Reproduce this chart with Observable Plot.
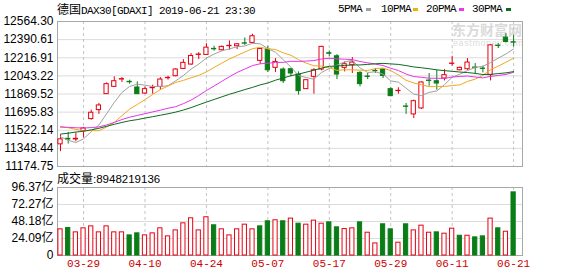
<!DOCTYPE html>
<html><head><meta charset="utf-8">
<script src="https://cdn.jsdelivr.net/npm/d3@7"></script>
<script src="https://cdn.jsdelivr.net/npm/@observablehq/plot@0.6"></script>
<style>
body{margin:0;background:#fff;}
#wrap{position:relative;width:578px;height:276px;overflow:hidden;font-family:"Liberation Sans",Arial,sans-serif;color:#000;}
.abs{position:absolute;white-space:nowrap;}
.mono{font-family:"Liberation Mono",monospace;font-size:11px;letter-spacing:-0.6px;}
.cjk{font-family:"Noto Sans CJK SC",sans-serif;font-size:12px;letter-spacing:0;}
.sw{position:absolute;width:5px;height:3px;}
</style></head>
<body><div id="wrap">
<div class="abs" id="wm" style="left:452px;top:21px;color:#dadada;font-family:'Noto Sans CJK SC',sans-serif;font-size:14px;font-weight:bold;line-height:16px;">东方财富网</div>
<div class="abs" style="left:453px;top:38px;color:#dcdcdc;font-size:9px;letter-spacing:0.6px;line-height:10px;">eastmoney.com</div>
<div id="main" class="abs" style="left:0;top:0"></div>
<div id="vol" class="abs" style="left:0;top:170px"></div>
<div class="abs" style="left:57px;top:2px;line-height:14px;"><span class="cjk">德国</span><span class="mono">DAX30[GDAXI] 2019-06-21 23:30</span></div>
<div class="abs mono" style="left:338px;top:2px;line-height:14px;">5PMA</div>
<div class="sw" style="left:366px;top:8px;background:#a0a0a0"></div>
<div class="abs mono" style="left:381px;top:2px;line-height:14px;">10PMA</div>
<div class="sw" style="left:413px;top:8px;background:#f0b400"></div>
<div class="abs mono" style="left:426px;top:2px;line-height:14px;">20PMA</div>
<div class="sw" style="left:459px;top:8px;background:#e83ae8"></div>
<div class="abs mono" style="left:472px;top:2px;line-height:14px;">30PMA</div>
<div class="sw" style="left:506px;top:8px;background:#0b6b1e"></div>
<div class="abs" style="left:57px;top:171px;line-height:14px;"><span class="cjk">成交量</span><span style="font-size:11.5px">:8948219136</span></div>
</div>
<script>
const dates = ["03-26","03-27","03-28","03-29","04-01","04-02","04-03","04-04","04-05","04-08","04-09","04-10","04-11","04-12","04-15","04-16","04-17","04-18","04-23","04-24","04-25","04-26","04-29","04-30","05-02","05-03","05-06","05-07","05-08","05-09","05-10","05-13","05-14","05-15","05-16","05-17","05-20","05-21","05-22","05-23","05-24","05-27","05-28","05-29","05-30","05-31","06-03","06-04","06-05","06-06","06-07","06-11","06-12","06-13","06-14","06-17","06-18","06-19","06-20","06-21"];
const open = [11387,11440,11434,11514,11629,11715,11868,11938,12008,11986,11932,11874,11925,11938,12021,12040,12110,12152,12244,12244,12302,12289,12328,12327,12355,12359,12187,12295,12120,12104,12107,12056,11916,12034,12104,12260,12231,12120,12145,12072,12037,12091,12104,11916,11897,11750,11674,11731,11998,11992,12018,12158,12097,12107,12123,12113,12050,12333,12410,12365];
const high = [11476,11501,11498,11549,11715,11779,11976,12034,12027,12002,11986,11938,11954,12027,12040,12113,12199,12257,12266,12352,12327,12330,12378,12352,12407,12442,12305,12327,12209,12120,12113,12082,12008,12113,12327,12282,12247,12177,12219,12082,12066,12113,12113,11929,11929,11779,11811,11986,12066,12097,12104,12231,12129,12209,12161,12136,12343,12352,12448,12432];
const low = [11317,11390,11412,11450,11619,11674,11868,11932,11980,11964,11865,11866,11868,11906,12002,12034,12104,12145,12199,12241,12279,12282,12289,12295,12336,12352,12155,12075,12075,11970,12034,11858,11913,11868,12091,12225,12008,12081,12066,11938,12008,12066,12018,11843,11868,11674,11635,11721,11944,11906,11995,12136,12091,12097,12059,12072,11995,12305,12359,12321];
const close = [11435,11433,11440,11540,11690,11760,11964,11992,12012,11982,11868,11916,11929,12008,12024,12104,12168,12234,12248,12314,12298,12321,12331,12346,12352,12423,12301,12097,12177,11992,12066,11897,12002,12097,12321,12255,12056,12155,12171,11964,12033,12088,12043,11849,11900,11747,11801,11980,11995,11970,12050,12161,12120,12171,12120,12110,12336,12330,12368,12362];
const prevClose = 11347;
const volume = [37.1,39.0,32.8,38.5,41.3,32.8,41.3,32.8,32.8,28.5,31.4,28.5,31.4,38.5,27.1,35.6,45.6,52.7,35.6,54.2,42.8,37.1,28.5,37.1,43.7,37.1,41.3,48.5,49.9,48.5,52.3,45.1,43.7,49.4,45.1,47.0,39.9,37.5,38.5,47.0,32.3,17.1,44.2,37.1,18.1,44.2,35.6,42.3,32.3,32.8,30.9,38.0,28.0,28.0,25.7,27.1,52.3,38.5,33.7,89.48];
const ma5 = [11460,11426,11404,11440,11508,11573,11679,11789,11884,11942,11964,11954,11941,11941,11949,11996,12047,12108,12156,12214,12252,12283,12302,12322,12330,12355,12351,12304,12270,12198,12127,12046,12027,12011,12077,12114,12146,12177,12192,12120,12076,12082,12060,11995,11983,11925,11868,11855,11885,11899,11959,12031,12059,12094,12124,12136,12171,12213,12253,12301];
const ma10 = [11559,11546,11531,11516,11520,11517,11553,11597,11662,11725,11769,11816,11865,11912,11946,11980,12000,12025,12048,12081,12124,12165,12205,12239,12272,12304,12317,12303,12296,12264,12241,12198,12165,12140,12137,12121,12096,12102,12101,12098,12095,12114,12118,12094,12051,12001,11975,11958,11940,11941,11942,11950,11957,11990,12012,12048,12102,12137,12174,12213];
const ma20 = [11552,11550,11546,11543,11548,11554,11573,11597,11625,11647,11664,11681,11698,11714,11733,11748,11777,11811,11855,11903,11946,11991,12035,12076,12109,12142,12159,12164,12172,12173,12183,12182,12185,12190,12205,12212,12206,12203,12199,12181,12168,12156,12142,12117,12094,12061,12036,12030,12021,12020,12019,12032,12038,12042,12032,12024,12038,12047,12057,12077];
const ma30 = [11485,11494,11505,11513,11526,11541,11560,11579,11597,11613,11624,11639,11652,11666,11680,11696,11716,11739,11766,11792,11817,11842,11867,11889,11912,11933,11957,11975,12002,12023,12045,12060,12079,12097,12118,12135,12138,12143,12148,12148,12153,12159,12163,12158,12153,12142,12129,12121,12112,12101,12093,12087,12080,12075,12067,12056,12058,12065,12072,12084];
const priceTicks = [11174.75,11348.44,11522.14,11695.83,11869.52,12043.22,12216.91,12390.61,12564.30];
const volTicks = [0,24.09,48.18,72.27,96.37];
const xTickDates = ["03-29","04-10","04-24","05-07","05-17","05-29","06-11","06-21"];

const RED = "#e60012", GREEN = "#0a7d16";
const rows = dates.map((d, i) => ({
  date: d, open: open[i], high: high[i], low: low[i], close: close[i],
  up: close[i] >= open[i],
  vol: volume[i],
  volUp: close[i] >= (i ? close[i - 1] : prevClose),
  ma5: ma5[i], ma10: ma10[i], ma20: ma20[i], ma30: ma30[i]
}));

const xScale = {type: "band", domain: dates, paddingInner: 0.45, paddingOuter: 0.5, align: 0.117, axis: null};
const baseStyle = {background: "transparent", overflow: "visible", fontFamily: "'Liberation Sans', Arial, 'Noto Sans CJK SC', sans-serif", fontSize: "12px", color: "#000"};

const main = Plot.plot({
  width: 578, height: 168,
  marginLeft: 57, marginRight: 56, marginTop: 21, marginBottom: 2,
  style: baseStyle,
  x: xScale,
  y: {domain: [11174.75, 12564.30], ticks: priceTicks, tickFormat: d3.format(".2f"), tickSize: 0, tickPadding: 4, label: null},
  marks: [
    Plot.ruleY(priceTicks, {stroke: "#dcdcdc"}),
    Plot.ruleX(xTickDates, {stroke: "#c4c4c4", strokeDasharray: "3,3"}),
    Plot.frame({stroke: "#a8a8a8"}),
    Plot.ruleX(rows, {x: "date", y1: "low", y2: "high", stroke: d => d.up ? RED : GREEN}),
    Plot.barY(rows, {x: "date", y1: "open", y2: "close", fill: d => d.up ? "#fff" : GREEN, stroke: d => d.up ? RED : GREEN, strokeWidth: 1}),
    Plot.lineY(rows, {x: "date", y: "ma5", stroke: "#a0a0a0", strokeWidth: 1}),
    Plot.lineY(rows, {x: "date", y: "ma10", stroke: "#f0a81e", strokeWidth: 1}),
    Plot.lineY(rows, {x: "date", y: "ma20", stroke: "#e535e5", strokeWidth: 1}),
    Plot.lineY(rows, {x: "date", y: "ma30", stroke: "#0b6b1e", strokeWidth: 1})
  ]
});
document.getElementById("main").appendChild(main);

const vol = Plot.plot({
  width: 578, height: 106,
  marginLeft: 57, marginRight: 56, marginTop: 17, marginBottom: 21,
  style: baseStyle,
  x: xScale,
  y: {domain: [0, 96.37], ticks: volTicks, tickFormat: d => d === 0 ? "0" : d.toFixed(2) + "亿", tickSize: 0, tickPadding: 4, label: null},
  marks: [
    Plot.ruleY(volTicks, {stroke: "#dcdcdc"}),
    Plot.ruleX(xTickDates, {stroke: "#c4c4c4", strokeDasharray: "3,3"}),
    Plot.frame({stroke: "#a8a8a8"}),
    Plot.barY(rows, {x: "date", y1: 0, y2: "vol", fill: d => d.volUp ? "#fff" : GREEN, stroke: d => d.volUp ? RED : GREEN, strokeWidth: 1}),
    Plot.text(xTickDates, {x: d => d, frameAnchor: "bottom", dy: 11, fill: "#cc0000", fontFamily: "'Liberation Mono', monospace", fontSize: 11, style: "letter-spacing:-0.6px"})
  ]
});
document.getElementById("vol").appendChild(vol);
</script>
</body></html>
